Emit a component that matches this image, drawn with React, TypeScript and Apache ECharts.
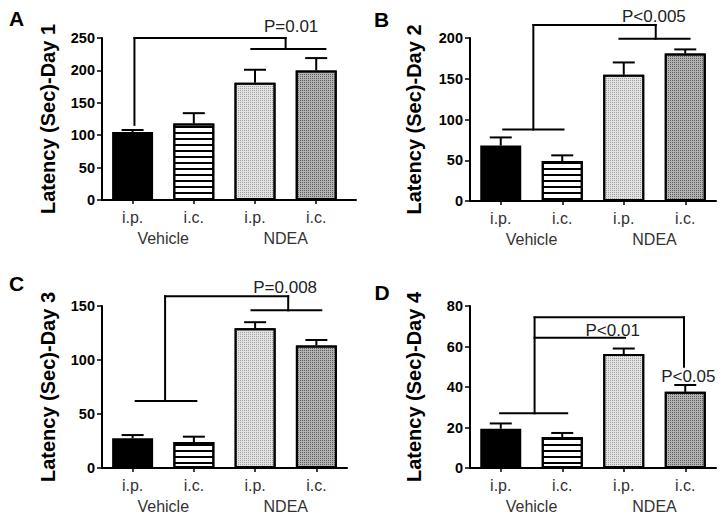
import React, { useEffect, useRef } from "react";
import * as echarts from "echarts";

// ---------- data ----------
const catLabels = ["i.p.", "i.c.", "i.p.", "i.c."];
const groupLabels = ["Vehicle", "NDEA"];
const barPositions = [0.5, 1.5, 2.5, 3.5];
const groupPositions = [1, 3];

const day1Mean = [105, 118, 181, 200];
const day1Sem = [3, 16, 20, 19];
const day2Mean = [68, 49, 155, 181];
const day2Sem = [10, 7, 15, 5];
const day3Mean = [27.5, 24, 129.5, 113.5];
const day3Sem = [3, 5, 5.5, 5];
const day4Mean = [19.4, 15.3, 56.3, 37.6];
const day4Sem = [2.6, 2, 2.7, 3.4];

// significance brackets: [x1, y1, x2, y2] in data units
const day1Brackets = [
  [0.53, 116, 0.53, 250],
  [0.53, 250, 3.0, 250],
  [3.0, 250, 3.0, 233],
  [2.44, 233, 3.65, 233],
];
const day2Brackets = [
  [1.03, 87.6, 1.03, 216],
  [0.54, 87.6, 1.52, 87.6],
  [1.03, 216, 3.02, 216],
  [3.02, 216, 3.02, 199],
  [2.43, 199, 3.57, 199],
];
const day3Brackets = [
  [1.03, 62, 1.03, 159],
  [0.55, 62, 1.54, 62],
  [1.03, 159, 3.04, 159],
  [3.04, 159, 3.04, 146],
  [2.44, 146, 3.58, 146],
];
const day4Brackets = [
  [1.05, 27, 1.05, 74.4],
  [0.49, 27, 1.58, 27],
  [1.05, 74.4, 3.48, 74.4],
  [3.48, 74.4, 3.48, 50],
  [1.05, 64.3, 2.52, 64.3],
];

// p-value labels: positions [x, y] and texts
const day1PPos = [[3.09, 267]];
const day1PText = ["P=0.01"];
const day2PPos = [[2.99, 226.6]];
const day2PText = ["P<0.005"];
const day3PPos = [[2.99, 167.5]];
const day3PText = ["P=0.008"];
const day4PPos = [[2.32, 68.1], [3.55, 45]];
const day4PText = ["P<0.01", "P<0.05"];

const yTitles = [
  "Latency (Sec)-Day 1",
  "Latency (Sec)-Day 2",
  "Latency (Sec)-Day 3",
  "Latency (Sec)-Day 4",
];
const panelLetters = ["A", "B", "C", "D"];
const yMaxes = [250, 200, 150, 80];
const yIntervals = [50, 50, 50, 20];

// ---------- layout / style ----------
const FONT = '"Liberation Sans", Arial, sans-serif';
const panels = [
  { left: 102, top: 38, width: 254, height: 162, xMax: 4.15, nameGap: 44, letter: [16.5, 18.5] },
  { left: 470, top: 38, width: 246, height: 163, xMax: 4.0, nameGap: 46, letter: [381.5, 19.5] },
  { left: 102, top: 306, width: 245, height: 162, xMax: 4.0, nameGap: 44, letter: [16.5, 283.5] },
  { left: 470, top: 306, width: 246, height: 162, xMax: 4.0, nameGap: 46, letter: [382, 292.5] },
];

const barStyles = [
  { color: "#000", borderColor: "#000", borderWidth: 2 },
  {
    color: "#fff",
    borderColor: "#000",
    borderWidth: 2,
    decal: {
      symbol: "rect",
      symbolSize: 1,
      symbolKeepAspect: false,
      dashArrayX: [1, 0],
      dashArrayY: [2, 4],
      color: "#000",
      rotation: 0,
    },
  },
  {
    color: "#e2e2e2",
    borderColor: "#000",
    borderWidth: 2,
    decal: {
      symbol: "rect",
      symbolSize: 1,
      dashArrayX: [1, 1],
      dashArrayY: [1, 1],
      color: "#a0a0a0",
    },
  },
  {
    color: "#b2b2b2",
    borderColor: "#000",
    borderWidth: 2,
    decal: {
      symbol: "rect",
      symbolSize: 1,
      dashArrayX: [1, 1],
      dashArrayY: [1, 1],
      color: "#5e5e5e",
    },
  },
];

function idxOf(arr: number[], v: number) {
  for (let i = 0; i < arr.length; i++) if (Math.abs(arr[i] - v) < 1e-6) return i;
  return -1;
}

function buildOption() {
  const means = [day1Mean, day2Mean, day3Mean, day4Mean];
  const sems = [day1Sem, day2Sem, day3Sem, day4Sem];
  const brackets = [day1Brackets, day2Brackets, day3Brackets, day4Brackets];
  const pPos = [day1PPos, day2PPos, day3PPos, day4PPos];
  const pText = [day1PText, day2PText, day3PText, day4PText];

  const grid: any[] = [];
  const xAxis: any[] = [];
  const yAxis: any[] = [];
  const series: any[] = [];
  const graphic: any[] = [];

  panels.forEach((p, i) => {
    grid.push({ left: p.left, top: p.top, width: p.width, height: p.height });
    xAxis.push({
      type: "value",
      gridIndex: i,
      position: "bottom",
      min: 0,
      max: p.xMax,
      axisLine: { show: true, onZero: false, lineStyle: { color: "#000", width: 2 } },
      axisTick: { show: true, customValues: barPositions, length: 4, lineStyle: { color: "#000", width: 1.5 } },
      axisLabel: {
        customValues: barPositions,
        formatter: (v: number) => {
          const k = idxOf(barPositions, v);
          return k >= 0 ? catLabels[k] : "";
        },
        color: "#333",
        fontSize: 16,
        fontFamily: FONT,
        margin: 9,
      },
      splitLine: { show: false },
    });
    xAxis.push({
      type: "value",
      gridIndex: i,
      position: "bottom",
      min: 0,
      max: p.xMax,
      axisLine: { show: false },
      axisTick: { show: false },
      axisLabel: {
        customValues: groupPositions,
        formatter: (v: number) => {
          const k = idxOf(groupPositions, v);
          return k >= 0 ? groupLabels[k] : "";
        },
        color: "#333",
        fontSize: 16,
        fontFamily: FONT,
        margin: 30,
      },
      splitLine: { show: false },
    });
    yAxis.push({
      type: "value",
      gridIndex: i,
      min: 0,
      max: yMaxes[i],
      interval: yIntervals[i],
      axisLine: { show: true, lineStyle: { color: "#000", width: 2 } },
      axisTick: { show: true, length: 5, lineStyle: { color: "#000", width: 1.5 } },
      axisLabel: { color: "#000", fontWeight: "bold", fontSize: 14.5, fontFamily: FONT, margin: 7 },
      splitLine: { show: false },
      name: yTitles[i],
      nameLocation: "middle",
      nameGap: p.nameGap,
      nameTextStyle: { fontWeight: "bold", fontSize: 20, color: "#000", fontFamily: FONT },
    });

    const xi = 2 * i;
    series.push({
      type: "bar",
      xAxisIndex: xi,
      yAxisIndex: i,
      barWidth: 41,
      z: 2,
      data: barPositions.map((x, k) => ({ value: [x, means[i][k]], itemStyle: barStyles[k] })),
    });
    series.push({
      type: "custom",
      xAxisIndex: xi,
      yAxisIndex: i,
      z: 3,
      clip: false,
      encode: { x: 0, y: [1, 2] },
      data: barPositions.map((x, k) => [x, means[i][k], means[i][k] + sems[i][k]]),
      renderItem: (params: any, api: any) => {
        const base = api.coord([api.value(0), api.value(1)]);
        const top = api.coord([api.value(0), api.value(2)]);
        const st = { stroke: "#000", lineWidth: 2 };
        return {
          type: "group",
          children: [
            { type: "line", shape: { x1: base[0], y1: base[1], x2: top[0], y2: top[1] }, style: st },
            { type: "line", shape: { x1: top[0] - 11, y1: top[1], x2: top[0] + 11, y2: top[1] }, style: st },
          ],
        };
      },
    });
    series.push({
      type: "custom",
      xAxisIndex: xi,
      yAxisIndex: i,
      z: 4,
      clip: false,
      encode: { x: [0, 2], y: [1, 3] },
      data: brackets[i],
      renderItem: (params: any, api: any) => {
        const a = api.coord([api.value(0), api.value(1)]);
        const b = api.coord([api.value(2), api.value(3)]);
        return {
          type: "line",
          shape: { x1: a[0], y1: a[1], x2: b[0], y2: b[1] },
          style: { stroke: "#000", lineWidth: 2, lineCap: "square" },
        };
      },
    });
    const texts = pText[i];
    series.push({
      type: "custom",
      xAxisIndex: xi,
      yAxisIndex: i,
      z: 5,
      clip: false,
      encode: { x: 0, y: 1 },
      data: pPos[i],
      renderItem: (params: any, api: any) => {
        const c = api.coord([api.value(0), api.value(1)]);
        return {
          type: "text",
          x: c[0],
          y: c[1],
          style: {
            text: texts[params.dataIndex],
            fill: "#222",
            fontSize: 17,
            fontFamily: FONT,
            align: "center",
            verticalAlign: "middle",
          },
        };
      },
    });

    graphic.push({
      type: "text",
      x: p.letter[0],
      y: p.letter[1],
      style: {
        text: panelLetters[i],
        fill: "#000",
        fontSize: 21,
        fontWeight: "bold",
        fontFamily: FONT,
        align: "center",
        verticalAlign: "middle",
      },
    });
  });

  return {
    animation: false,
    backgroundColor: "#fff",
    textStyle: { fontFamily: FONT },
    grid,
    xAxis,
    yAxis,
    series,
    graphic,
  };
}

export default function App() {
  const ref = useRef<HTMLDivElement>(null);
  useEffect(() => {
    document.body.style.margin = "0";
    if (!ref.current) return;
    const chart = echarts.init(ref.current, undefined, { renderer: "svg" });
    chart.setOption(buildOption() as any);
    return () => chart.dispose();
  }, []);
  return <div ref={ref} style={{ width: 725, height: 517 }} />;
}
